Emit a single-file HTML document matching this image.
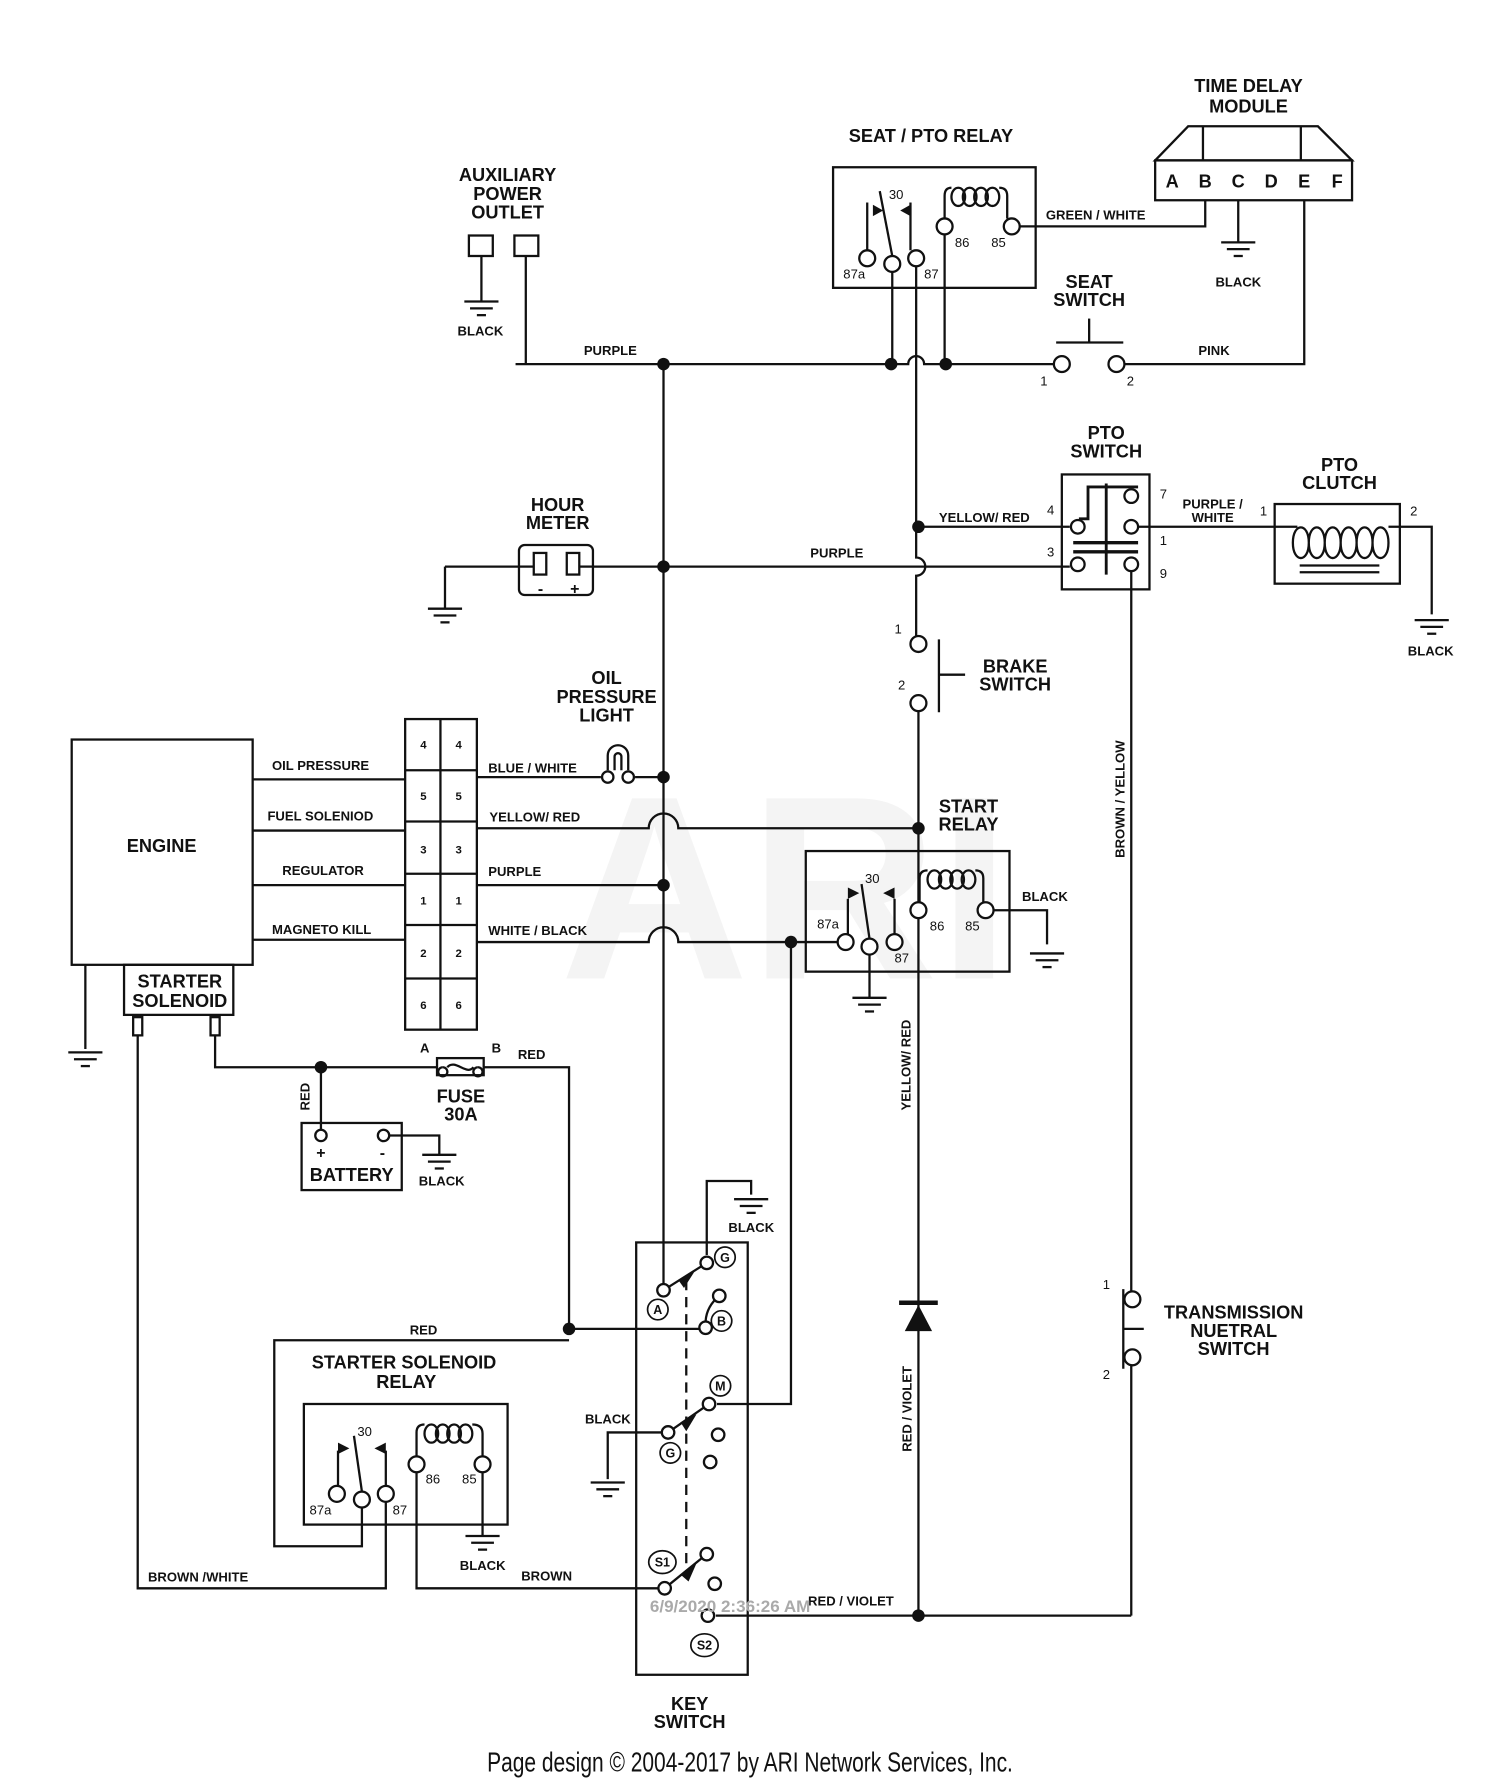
<!DOCTYPE html>
<html><head><meta charset="utf-8"><style>
html,body{margin:0;padding:0;background:#fff;}
svg{display:block;}
text{font-family:"Liberation Sans",Arial,sans-serif;fill:#111;}
.t{font-weight:bold;font-size:16px;text-anchor:middle;}
.s{font-weight:bold;font-size:11.5px;}
.n{font-size:11.5px;}
.c{text-anchor:middle;}
</style></head><body>
<svg width="1500" height="1784" viewBox="0 0 1318 1568" preserveAspectRatio="none" xmlns="http://www.w3.org/2000/svg">
<defs>
<g id="g"><line x1="-15" y1="0" x2="15" y2="0"/><line x1="-10" y1="6" x2="10" y2="6"/><line x1="-4" y1="12" x2="4" y2="12"/></g>
</defs>
<text x="690" y="860" font-size="230" font-weight="bold" style="fill:#f4f4f4" text-anchor="middle">ARI</text>
<g stroke="#111" stroke-width="2" fill="none">
<!-- TDM -->
<path d="M1044 111 H1158 L1188 141 H1015 Z"/>
<line x1="1057" y1="111" x2="1057" y2="141"/><line x1="1143" y1="111" x2="1143" y2="141"/>
<rect x="1015" y="141" width="173" height="35"/>
<path d="M1059 176 V199 H896"/>
<line x1="1088" y1="176" x2="1088" y2="213"/><use href="#g" x="1088" y="213"/>
<path d="M1146 176 V320 H988"/>
<!-- seat relay -->
<rect x="732" y="147" width="178" height="106"/>
<path d="M830 192 V172 Q830 165 836 165"/>
<ellipse cx="842" cy="173" rx="6" ry="8"/><ellipse cx="852" cy="173" rx="6" ry="8"/><ellipse cx="862" cy="173" rx="6" ry="8"/><ellipse cx="872" cy="173" rx="6" ry="8"/>
<path d="M878 165 Q885 165 885 172 V192"/>
<circle cx="830" cy="199" r="7" fill="#fff"/><circle cx="889" cy="199" r="7" fill="#fff"/>
<line x1="762" y1="220" x2="762" y2="178"/><line x1="800" y1="220" x2="800" y2="178"/>
<line x1="784" y1="225" x2="773" y2="168"/>
<circle cx="762" cy="227" r="7" fill="#fff"/><circle cx="784" cy="232" r="7" fill="#fff"/><circle cx="805" cy="227" r="7" fill="#fff"/>
<line x1="784" y1="239" x2="784" y2="320"/>
<line x1="830" y1="206" x2="830" y2="320"/>
<path d="M805 234 V463"/>
<path d="M453 320 H798 A7 7 0 0 1 812 320 H926"/>
<path d="M462 225 V320"/>
<!-- seat switch -->
<line x1="957" y1="280" x2="957" y2="301"/><line x1="928" y1="301" x2="987" y2="301"/>
<circle cx="933" cy="320" r="7" fill="#fff"/><circle cx="981" cy="320" r="7" fill="#fff"/>
<!-- aux -->
<rect x="412" y="207" width="21" height="18"/><rect x="452" y="207" width="21" height="18"/>
<line x1="423" y1="225" x2="423" y2="265"/><use href="#g" x="423" y="265"/>
<line x1="583" y1="320" x2="583" y2="1128"/>
<path d="M805 463 V490 A8 8 0 0 1 805 506 V559"/>
<path d="M805 463 H940"/>
<path d="M391 498 H940"/>
<!-- hour meter -->
<rect x="456" y="479" width="65" height="44" rx="5" fill="#fff"/>
<rect x="469" y="486" width="11" height="19" fill="#fff"/><rect x="498" y="486" width="11" height="19" fill="#fff"/>
<line x1="391" y1="498" x2="391" y2="535"/><use href="#g" x="391" y="535"/>
<line x1="456" y1="498" x2="469" y2="498"/><line x1="509" y1="498" x2="521" y2="498"/>
<!-- PTO switch -->
<rect x="933" y="417" width="77" height="101"/>
<line x1="972" y1="425" x2="972" y2="505" stroke-width="2.5"/>
<path d="M948 456 H956 V428 H1000" stroke-width="2.5"/>
<line x1="943" y1="477" x2="1000" y2="477" stroke-width="3"/><line x1="943" y1="485" x2="1000" y2="485" stroke-width="3"/>
<circle cx="994" cy="436" r="6" fill="#fff"/><circle cx="947" cy="463" r="6" fill="#fff"/><circle cx="994" cy="463" r="6" fill="#fff"/>
<circle cx="947" cy="496" r="6" fill="#fff"/><circle cx="994" cy="496" r="6" fill="#fff"/>
<line x1="1000" y1="463" x2="1120" y2="463"/>
<path d="M994 502 V1135"/>
<!-- PTO clutch -->
<rect x="1120" y="443" width="110" height="70"/>
<path d="M1120 463 H1140 M1220 463 H1258 V540"/>
<path d="M1136 477 c0 -18 14 -18 14 0 c0 18 -14 18 -14 0 M1150 477 c0 -18 14 -18 14 0 c0 18 -14 18 -14 0 M1164 477 c0 -18 14 -18 14 0 c0 18 -14 18 -14 0 M1178 477 c0 -18 14 -18 14 0 c0 18 -14 18 -14 0 M1192 477 c0 -18 14 -18 14 0 c0 18 -14 18 -14 0 M1206 477 c0 -18 14 -18 14 0 c0 18 -14 18 -14 0"/>
<line x1="1142" y1="497" x2="1212" y2="497"/><line x1="1142" y1="503" x2="1212" y2="503"/>
<use href="#g" x="1258" y="545"/>
<!-- brake switch -->
<circle cx="807" cy="566" r="7" fill="#fff"/><circle cx="807" cy="618" r="7" fill="#fff"/>
<line x1="825" y1="562" x2="825" y2="626"/><line x1="825" y1="593" x2="848" y2="593"/>
<line x1="807" y1="625" x2="807" y2="1150"/>
<!-- start relay -->
<rect x="708" y="748" width="179" height="106"/>
<path d="M808 793 V772 Q808 765 815 765"/>
<ellipse cx="821" cy="773" rx="6" ry="8"/><ellipse cx="831" cy="773" rx="6" ry="8"/><ellipse cx="841" cy="773" rx="6" ry="8"/><ellipse cx="851" cy="773" rx="6" ry="8"/>
<path d="M857 765 Q864 765 864 772 V793"/>
<circle cx="807" cy="800" r="7" fill="#fff"/><circle cx="866" cy="800" r="7" fill="#fff"/>
<path d="M873 800 H920 V830"/><use href="#g" x="920" y="838"/>
<line x1="745" y1="821" x2="745" y2="790"/><line x1="786" y1="821" x2="786" y2="790"/>
<line x1="764" y1="825" x2="757" y2="777"/>
<circle cx="743" cy="828" r="7" fill="#fff"/><circle cx="764" cy="832" r="7" fill="#fff"/><circle cx="786" cy="828" r="7" fill="#fff"/>
<line x1="764" y1="839" x2="764" y2="877"/><use href="#g" x="764" y="877"/>
<!-- engine -->
<rect x="63" y="650" width="159" height="198"/>
<rect x="109" y="848" width="96" height="44"/>
<rect x="117" y="894" width="8" height="16"/><rect x="185" y="894" width="8" height="16"/>
<line x1="75" y1="848" x2="75" y2="922"/><use href="#g" x="75" y="925"/>
<!-- connector -->
<rect x="356" y="632" width="63" height="273"/>
<line x1="387" y1="632" x2="387" y2="905"/>
<line x1="356" y1="677" x2="419" y2="677"/><line x1="356" y1="722" x2="419" y2="722"/>
<line x1="356" y1="768" x2="419" y2="768"/><line x1="356" y1="813" x2="419" y2="813"/>
<line x1="356" y1="860" x2="419" y2="860"/>
<line x1="222" y1="685" x2="356" y2="685"/><line x1="222" y1="730" x2="356" y2="730"/>
<line x1="222" y1="778" x2="356" y2="778"/><line x1="222" y1="826" x2="356" y2="826"/>
<line x1="419" y1="683" x2="528" y2="683"/><line x1="558" y1="683" x2="583" y2="683"/>
<path d="M419 728 H570 A13 13 0 0 1 596 728 H807"/>
<line x1="419" y1="778" x2="583" y2="778"/>
<path d="M419 828 H570 A13 13 0 0 1 596 828 H736"/>
<path d="M695 828 V1234 H630"/>
<!-- oil light -->
<path d="M534 677 V664 A9 9 0 0 1 552 664 V677"/>
<path d="M540 677 V665 A3 3 0 0 1 546 665 V677"/>
<circle cx="534" cy="683" r="5" fill="#fff"/><circle cx="552" cy="683" r="5" fill="#fff"/>
<!-- fuse/battery -->
<path d="M189 910 V938 H384"/><path d="M425 938 H500 V1168"/>
<rect x="384" y="930" width="41" height="15"/>
<path d="M389 938 a4 4 0 1 0 0.1 0 M420 938 a4 4 0 1 1 -0.1 0 M393 938 C400 930 410 946 416 938"/>
<line x1="282" y1="938" x2="282" y2="993"/>
<rect x="265" y="987" width="88" height="59"/>
<circle cx="282" cy="998" r="5" fill="#fff"/><circle cx="337" cy="998" r="5" fill="#fff"/>
<path d="M342 998 H386 V1015"/><use href="#g" x="386" y="1015"/>
<!-- starter solenoid relay -->
<path d="M500 1178 H241 V1359 H318 V1325"/>
<rect x="267" y="1234" width="179" height="106"/>
<path d="M366 1280 V1259 Q366 1252 373 1252"/>
<ellipse cx="379" cy="1260" rx="6" ry="8"/><ellipse cx="389" cy="1260" rx="6" ry="8"/><ellipse cx="399" cy="1260" rx="6" ry="8"/><ellipse cx="409" cy="1260" rx="6" ry="8"/>
<path d="M415 1252 Q424 1252 424 1260 V1280"/>
<circle cx="366" cy="1287" r="7" fill="#fff"/><circle cx="424" cy="1287" r="7" fill="#fff"/>
<line x1="424" y1="1294" x2="424" y2="1350"/><use href="#g" x="424" y="1350"/>
<line x1="297" y1="1306" x2="297" y2="1275"/><line x1="339" y1="1306" x2="339" y2="1275"/>
<line x1="318" y1="1311" x2="311" y2="1262"/>
<circle cx="296" cy="1313" r="7" fill="#fff"/><circle cx="318" cy="1318" r="7" fill="#fff"/><circle cx="339" cy="1313" r="7" fill="#fff"/>
<path d="M121 910 V1396 H339 V1320"/>
<path d="M366 1294 V1396 H578"/>
<line x1="500" y1="1168" x2="614" y2="1168"/>
<!-- key switch -->
<rect x="559" y="1092" width="98" height="380"/>
<line x1="603" y1="1125" x2="603" y2="1385" stroke-dasharray="9 6"/>
<path d="M621 1103 V1038 H660 V1050"/><use href="#g" x="660" y="1054"/>
<path d="M581 1259 H534 V1300"/><use href="#g" x="534" y="1303"/>
<line x1="583" y1="1134" x2="621" y2="1110"/>
<line x1="587" y1="1259" x2="623" y2="1234"/>
<line x1="584" y1="1396" x2="621" y2="1366"/>
<path d="M620 1161 Q621 1148 632 1139"/>
<path d="M629 1420 H994"/>
<circle cx="583" cy="1134" r="5.5" fill="#fff"/><circle cx="621" cy="1110" r="5.5" fill="#fff"/>
<circle cx="632" cy="1139" r="5.5" fill="#fff"/><circle cx="620" cy="1167" r="5.5" fill="#fff"/>
<circle cx="623" cy="1234" r="5.5" fill="#fff"/><circle cx="587" cy="1259" r="5.5" fill="#fff"/>
<circle cx="631" cy="1261" r="5.5" fill="#fff"/><circle cx="624" cy="1285" r="5.5" fill="#fff"/>
<circle cx="621" cy="1366" r="5.5" fill="#fff"/><circle cx="584" cy="1396" r="5.5" fill="#fff"/>
<circle cx="628" cy="1392" r="5.5" fill="#fff"/><circle cx="622" cy="1420" r="5.5" fill="#fff"/>
<g stroke-width="1.5"><circle cx="637" cy="1105" r="9"/><circle cx="578" cy="1151" r="9"/><circle cx="634" cy="1161" r="9"/>
<circle cx="633" cy="1218" r="9"/><circle cx="589" cy="1277" r="9"/><ellipse cx="582" cy="1373" rx="12" ry="10"/><ellipse cx="619" cy="1446" rx="12" ry="10"/></g>
<line x1="790" y1="1145" x2="824" y2="1145" stroke-width="4"/>
<line x1="807" y1="1150" x2="807" y2="1420"/>
<!-- transmission switch -->
<circle cx="995" cy="1142" r="7" fill="#fff"/><circle cx="995" cy="1193" r="7" fill="#fff"/>
<line x1="987" y1="1133" x2="987" y2="1203"/><line x1="987" y1="1168" x2="1005" y2="1168"/>
<line x1="994" y1="1200" x2="994" y2="1420"/>
</g>
<g fill="#111">
<path d="M767 180 L776 185 L767 190 Z"/><path d="M800 180 L791 185 L800 190 Z"/>
<path d="M745 780 L755 785 L745 790 Z"/><path d="M786 780 L776 785 L786 790 Z"/>
<path d="M297 1268 L307 1273 L297 1278 Z"/><path d="M339 1268 L329 1273 L339 1278 Z"/>
<path d="M795 1170 L807 1147 L819 1170 Z"/>
<path d="M596 1125 L610 1118 L601 1132 Z"/><path d="M598 1250 L612 1243 L603 1258 Z"/><path d="M598 1384 L612 1374 L605 1390 Z"/>
<circle cx="583" cy="320" r="5.5"/><circle cx="783" cy="320" r="5.5"/><circle cx="831" cy="320" r="5.5"/>
<circle cx="583" cy="498" r="5.5"/><circle cx="807" cy="463" r="5.5"/><circle cx="583" cy="683" r="5.5"/>
<circle cx="807" cy="728" r="5.5"/><circle cx="583" cy="778" r="5.5"/><circle cx="695" cy="828" r="5.5"/>
<circle cx="282" cy="938" r="5.5"/><circle cx="500" cy="1168" r="5.5"/><circle cx="807" cy="1420" r="5.5"/>
</g>
<text class="t" x="1097" y="81">TIME DELAY</text><text class="t" x="1097" y="99">MODULE</text>
<g class="t" font-size="17"><text x="1030" y="165" class="t">A</text><text x="1059" y="165" class="t">B</text><text x="1088" y="165" class="t">C</text><text x="1117" y="165" class="t">D</text><text x="1146" y="165" class="t">E</text><text x="1175" y="165" class="t">F</text></g>
<text class="t" x="818" y="125">SEAT / PTO RELAY</text>
<text class="t" x="446" y="159">AUXILIARY</text><text class="t" x="446" y="176">POWER</text><text class="t" x="446" y="192">OUTLET</text>
<text class="t" x="957" y="253">SEAT</text><text class="t" x="957" y="269">SWITCH</text>
<text class="t" x="972" y="386">PTO</text><text class="t" x="972" y="402">SWITCH</text>
<text class="t" x="1177" y="414">PTO</text><text class="t" x="1177" y="430">CLUTCH</text>
<text class="t" x="490" y="449">HOUR</text><text class="t" x="490" y="465">METER</text>
<text class="t" x="533" y="601">OIL</text><text class="t" x="533" y="618">PRESSURE</text><text class="t" x="533" y="634">LIGHT</text>
<text class="t" x="892" y="591">BRAKE</text><text class="t" x="892" y="607">SWITCH</text>
<text class="t" x="851" y="714">START</text><text class="t" x="851" y="730">RELAY</text>
<text class="t" x="142" y="749">ENGINE</text>
<text class="t" x="158" y="868">STARTER</text><text class="t" x="158" y="885">SOLENOID</text>
<text class="t" x="405" y="969">FUSE</text><text class="t" x="405" y="985">30A</text>
<text class="t" x="309" y="1038">BATTERY</text>
<text class="t" x="355" y="1203">STARTER SOLENOID</text><text class="t" x="357" y="1220">RELAY</text>
<text class="t" x="1084" y="1159">TRANSMISSION</text><text class="t" x="1084" y="1175">NUETRAL</text><text class="t" x="1084" y="1191">SWITCH</text>
<text class="t" x="606" y="1503">KEY</text><text class="t" x="606" y="1519">SWITCH</text>
<g class="s">
<text x="919" y="193">GREEN / WHITE</text>
<text x="1068" y="252">BLACK</text>
<text x="1053" y="312">PINK</text>
<text x="402" y="295">BLACK</text>
<text x="513" y="312">PURPLE</text>
<text x="825" y="459">YELLOW/ RED</text>
<text x="712" y="490">PURPLE</text>
<text x="1039" y="447">PURPLE /</text><text x="1047" y="459">WHITE</text>
<text x="1237" y="576">BLACK</text>
<text x="239" y="677">OIL PRESSURE</text>
<text x="235" y="721">FUEL SOLENIOD</text>
<text x="248" y="769">REGULATOR</text>
<text x="239" y="821">MAGNETO KILL</text>
<text x="429" y="679">BLUE / WHITE</text>
<text x="430" y="722">YELLOW/ RED</text>
<text x="429" y="770">PURPLE</text>
<text x="429" y="822">WHITE / BLACK</text>
<text x="898" y="792">BLACK</text>
<text x="455" y="931">RED</text>
<text x="368" y="1042">BLACK</text>
<text x="640" y="1083">BLACK</text>
<text x="514" y="1251">BLACK</text>
<text x="360" y="1173">RED</text>
<text x="404" y="1380">BLACK</text>
<text x="458" y="1389">BROWN</text>
<text x="130" y="1390">BROWN /WHITE</text>
<text x="710" y="1411">RED / VIOLET</text>
<text transform="translate(988 754) rotate(-90)">BROWN / YELLOW</text>
<text transform="translate(800 976) rotate(-90)">YELLOW/ RED</text>
<text transform="translate(801 1276) rotate(-90)">RED / VIOLET</text>
<text transform="translate(272 976) rotate(-90)">RED</text>
</g>
<g class="n">
<text x="781" y="175">30</text><text x="839" y="217">86</text><text x="871" y="217">85</text>
<text x="741" y="245">87a</text><text x="812" y="245">87</text>
<text x="914" y="339">1</text><text x="990" y="339">2</text>
<text x="1019" y="438">7</text><text x="920" y="452">4</text><text x="1019" y="479">1</text><text x="920" y="489">3</text><text x="1019" y="508">9</text>
<text x="1107" y="453">1</text><text x="1239" y="453">2</text>
<text x="786" y="557">1</text><text x="789" y="606">2</text>
<text x="760" y="776">30</text><text x="817" y="818">86</text><text x="848" y="818">85</text>
<text x="718" y="816">87a</text><text x="786" y="846">87</text>
<text x="314" y="1262">30</text><text x="374" y="1304">86</text><text x="406" y="1304">85</text>
<text x="272" y="1331">87a</text><text x="345" y="1331">87</text>
<text x="969" y="1133">1</text><text x="969" y="1212">2</text>
<text x="369" y="925" font-weight="bold">A</text><text x="432" y="925" font-weight="bold">B</text>
</g>
<g class="n" style="font-size:10px;font-weight:bold" text-anchor="middle">
<text x="372" y="658" class="c">4</text><text x="403" y="658" class="c">4</text>
<text x="372" y="703" class="c">5</text><text x="403" y="703" class="c">5</text>
<text x="372" y="750" class="c">3</text><text x="403" y="750" class="c">3</text>
<text x="372" y="795" class="c">1</text><text x="403" y="795" class="c">1</text>
<text x="372" y="841" class="c">2</text><text x="403" y="841" class="c">2</text>
<text x="372" y="887" class="c">6</text><text x="403" y="887" class="c">6</text>
</g>
<g style="font-weight:bold;font-size:14px" text-anchor="middle">
<text x="475" y="522" class="c">-</text><text x="505" y="522" class="c">+</text>
<text x="282" y="1018" class="c">+</text><text x="336" y="1018" class="c">-</text>
</g>
<g style="font-weight:bold;font-size:11px" text-anchor="middle">
<text x="637" y="1109" class="c">G</text><text x="578" y="1155" class="c">A</text><text x="634" y="1165" class="c">B</text>
<text x="633" y="1222" class="c">M</text><text x="589" y="1281" class="c">G</text><text x="582" y="1377" class="c">S1</text><text x="619" y="1450" class="c">S2</text>
</g>
<text x="571" y="1417" style="fill:#aaa;font-size:15px;font-weight:bold">6/9/2020 2:36:26 AM</text>
<text x="659" y="1557" text-anchor="middle" style="font-size:24px" textLength="462" lengthAdjust="spacingAndGlyphs">Page design © 2004-2017 by ARI Network Services, Inc.</text>
</svg>
</body></html>
